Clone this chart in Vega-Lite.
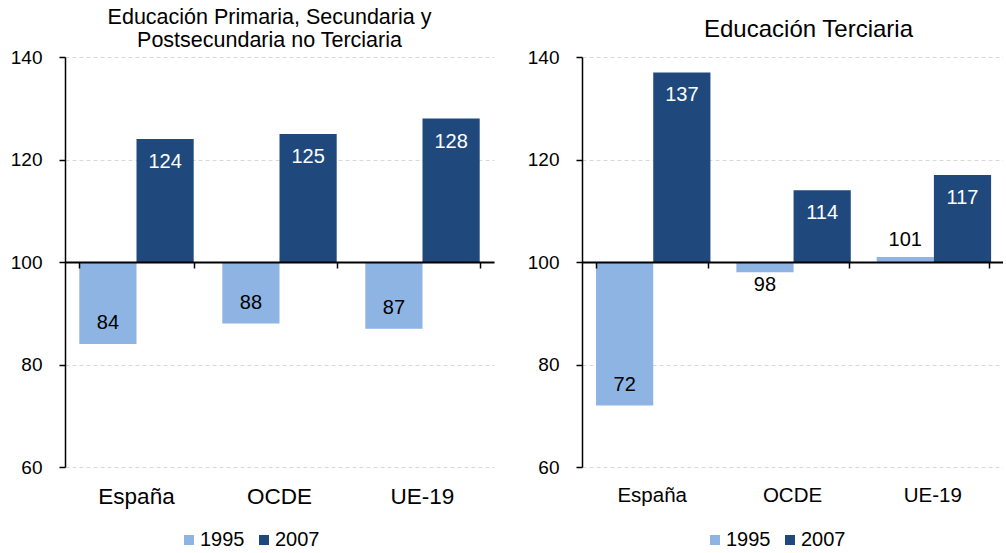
{
  "$schema": "https://vega.github.io/schema/vega-lite/v6.json",
  "padding": {"left": 10, "top": 6, "right": 0, "bottom": 0},
  "background": "white",
  "datasets": {
    "prim": [
      {"cat": "España", "year": "1995", "value": 84},
      {"cat": "España", "year": "2007", "value": 124},
      {"cat": "OCDE", "year": "1995", "value": 88},
      {"cat": "OCDE", "year": "2007", "value": 125},
      {"cat": "UE-19", "year": "1995", "value": 87},
      {"cat": "UE-19", "year": "2007", "value": 128}
    ],
    "terc": [
      {"cat": "España", "year": "1995", "value": 72},
      {"cat": "España", "year": "2007", "value": 137},
      {"cat": "OCDE", "year": "1995", "value": 98},
      {"cat": "OCDE", "year": "2007", "value": 114},
      {"cat": "UE-19", "year": "1995", "value": 101},
      {"cat": "UE-19", "year": "2007", "value": 117}
    ]
  },
  "spacing": 88,
  "bounds": "flush",
  "resolve": {"legend": {"color": "independent"}},
  "hconcat": [
    {
      "width": 429,
      "height": 410,
      "title": {"text": ["Educación Primaria, Secundaria y", "Postsecundaria no Terciaria"], "fontSize": 21.5, "lineHeight": 23, "dx": -10, "offset": -3},
      "data": {"name": "prim"},
      "encoding": {
        "xOffset": {"field": "year", "type": "nominal"},
        "y": {"field": "value", "type": "quantitative", "scale": {"domain": [60, 140], "nice": false, "zero": false}, "axis": {"values": [60, 80, 100, 120, 140], "title": null}}
      },
      "layer": [
        {
          "mark": {"type": "bar"},
          "encoding": {
            "x": {"field": "cat", "type": "nominal", "sort": ["España", "OCDE", "UE-19"], "scale": {"paddingInner": 0.2, "paddingOuter": 0.1},
                  "axis": {"orient": "bottom", "offset": -205, "labels": false, "ticks": true, "tickBand": "extent", "tickSize": 6, "tickColor": "black", "tickWidth": 1.5, "domainColor": "black", "domainWidth": 2, "zindex": 1, "title": null, "grid": false}},
            "y2": {"datum": 100},
            "color": {"field": "year", "type": "nominal", "scale": {"domain": ["1995", "2007"], "range": ["#8DB4E2", "#1F497D"]},
                      "legend": {"orient": "none", "legendX": 114, "legendY": 473, "direction": "horizontal", "title": null, "symbolType": "square", "symbolSize": 100, "labelFontSize": 20, "labelOffset": 1, "columnPadding": 9, "symbolStrokeWidth": 0, "padding": 0, "labelColor": "black"}}
          }
        },
        {
          "transform": [{"filter": "datum.year == '2007'"}],
          "mark": {"type": "text", "dy": 23, "fontSize": 20, "color": "white"},
          "encoding": {
            "x": {"field": "cat", "type": "nominal", "sort": ["España", "OCDE", "UE-19"],
                  "axis": {"orient": "bottom", "domain": false, "ticks": false, "tickSize": 0, "labelPadding": 18, "labelFontSize": 22.5, "labelAngle": 0, "labelColor": "black", "title": null, "grid": false}},
            "text": {"field": "value", "type": "quantitative"}
          }
        },
        {
          "transform": [{"filter": "datum.year == '1995'"}],
          "mark": {"type": "text", "dy": -21, "fontSize": 20, "color": "black"},
          "encoding": {
            "x": {"field": "cat", "type": "nominal", "sort": ["España", "OCDE", "UE-19"], "axis": null},
            "text": {"field": "value", "type": "quantitative"}
          }
        }
      ],
      "resolve": {"axis": {"x": "independent"}}
    },
    {
      "width": 421,
      "height": 410,
      "title": {"text": "Educación Terciaria", "fontSize": 24, "dx": 16, "offset": 6},
      "data": {"name": "terc"},
      "encoding": {
        "xOffset": {"field": "year", "type": "nominal"},
        "y": {"field": "value", "type": "quantitative", "scale": {"domain": [60, 140], "nice": false, "zero": false}, "axis": {"values": [60, 80, 100, 120, 140], "title": null}}
      },
      "layer": [
        {
          "mark": {"type": "bar"},
          "encoding": {
            "x": {"field": "cat", "type": "nominal", "sort": ["España", "OCDE", "UE-19"], "scale": {"paddingInner": 0.2, "paddingOuter": 0.1},
                  "axis": {"orient": "bottom", "offset": -205, "labels": false, "ticks": true, "tickBand": "extent", "tickSize": 6, "tickColor": "black", "tickWidth": 1.5, "domainColor": "black", "domainWidth": 2, "zindex": 1, "title": null, "grid": false}},
            "y2": {"datum": 100},
            "color": {"field": "year", "type": "nominal", "scale": {"domain": ["1995", "2007"], "range": ["#8DB4E2", "#1F497D"]},
                      "legend": {"orient": "none", "legendX": 123, "legendY": 473, "direction": "horizontal", "title": null, "symbolType": "square", "symbolSize": 100, "labelFontSize": 20, "labelOffset": 1, "columnPadding": 9, "symbolStrokeWidth": 0, "padding": 0, "labelColor": "black"}}
          }
        },
        {
          "transform": [{"filter": "datum.year == '2007'"}],
          "mark": {"type": "text", "dy": 23, "fontSize": 20, "color": "white"},
          "encoding": {
            "x": {"field": "cat", "type": "nominal", "sort": ["España", "OCDE", "UE-19"],
                  "axis": {"orient": "bottom", "domain": false, "ticks": false, "tickSize": 0, "labelPadding": 18, "labelFontSize": 20.5, "labelAngle": 0, "labelColor": "black", "title": null, "grid": false}},
            "text": {"field": "value", "type": "quantitative"}
          }
        },
        {
          "transform": [{"filter": "datum.year == '1995' && datum.value < 95"}],
          "mark": {"type": "text", "dy": -21, "fontSize": 20, "color": "black"},
          "encoding": {
            "x": {"field": "cat", "type": "nominal", "sort": ["España", "OCDE", "UE-19"], "axis": null},
            "text": {"field": "value", "type": "quantitative"}
          }
        },
        {
          "transform": [{"filter": "datum.year == '1995' && datum.value >= 95 && datum.value < 100"}],
          "mark": {"type": "text", "dy": 13, "fontSize": 20, "color": "black"},
          "encoding": {
            "x": {"field": "cat", "type": "nominal", "sort": ["España", "OCDE", "UE-19"], "axis": null},
            "text": {"field": "value", "type": "quantitative"}
          }
        },
        {
          "transform": [{"filter": "datum.year == '1995' && datum.value >= 100"}],
          "mark": {"type": "text", "dy": -17, "fontSize": 20, "color": "black"},
          "encoding": {
            "x": {"field": "cat", "type": "nominal", "sort": ["España", "OCDE", "UE-19"], "axis": null},
            "text": {"field": "value", "type": "quantitative"}
          }
        }
      ],
      "resolve": {"axis": {"x": "independent"}}
    }
  ],
  "config": {
    "font": "Liberation Sans",
    "view": {"stroke": null},
    "title": {"fontWeight": "normal", "color": "black", "anchor": "middle", "frame": "group", "font": "Liberation Sans"},
    "axis": {"labelFont": "Liberation Sans", "labelColor": "black"},
    "axisY": {"domainColor": "black", "domainWidth": 1.5, "tickColor": "black", "tickSize": 6, "tickWidth": 1.5, "labelPadding": 17, "labelFontSize": 19, "gridColor": "#D9D9D9", "gridDash": [4, 3], "gridWidth": 1},
    "legend": {"labelFont": "Liberation Sans"},
    "text": {"font": "Liberation Sans"}
  }
}
